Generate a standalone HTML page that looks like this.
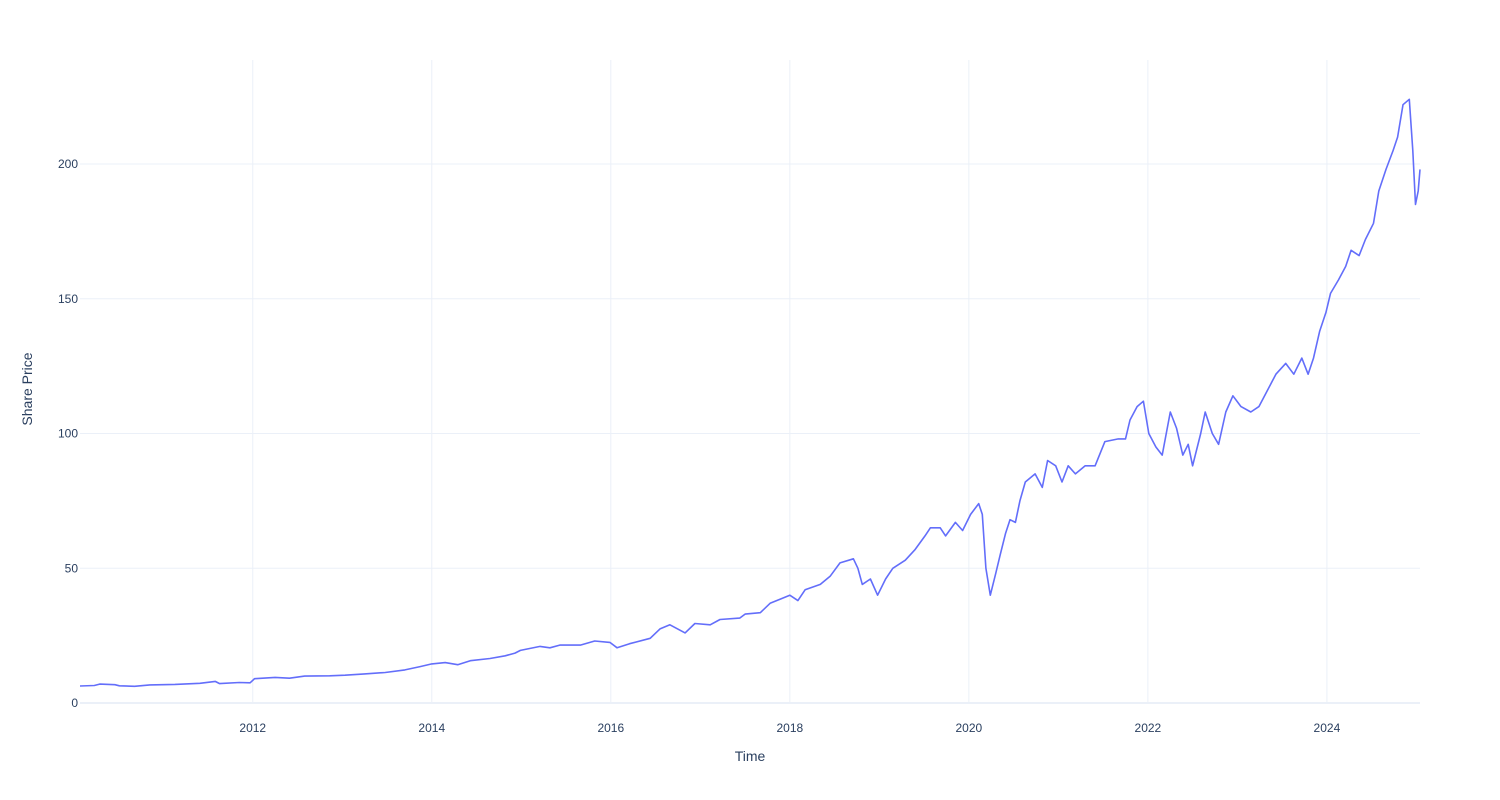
<!DOCTYPE html>
<html><head><meta charset="utf-8"><style>
html,body{margin:0;padding:0;background:#fff;}
svg{display:block;font-family:"Liberation Sans","DejaVu Sans",sans-serif;}
</style></head><body>
<svg id="chart" width="1500" height="800">
<g id="grid"></g>
<g id="axes"></g>
<path id="line" fill="none" stroke="#636efa" stroke-width="1.6" stroke-linejoin="round"></path>
<text x="750" y="761" text-anchor="middle" font-size="14" fill="#2a3f5f">Time</text>
<text transform="translate(32,389) rotate(-90)" text-anchor="middle" font-size="14" fill="#2a3f5f">Share Price</text>
</svg>
<script>
const years = [2010.07,2010.23,2010.29,2010.46,2010.51,2010.68,2010.85,2011.13,2011.41,2011.58,2011.63,2011.85,2011.97,2012.02,2012.25,2012.41,2012.58,2012.86,2013.03,2013.25,2013.48,2013.70,2013.87,2014.00,2014.15,2014.29,2014.43,2014.65,2014.82,2014.93,2014.99,2015.21,2015.32,2015.43,2015.66,2015.82,2015.99,2016.07,2016.21,2016.44,2016.55,2016.66,2016.83,2016.94,2017.11,2017.22,2017.44,2017.50,2017.67,2017.78,2017.89,2018.00,2018.09,2018.17,2018.34,2018.45,2018.56,2018.71,2018.76,2018.81,2018.90,2018.98,2019.07,2019.15,2019.29,2019.40,2019.51,2019.57,2019.68,2019.74,2019.85,2019.93,2020.02,2020.11,2020.15,2020.19,2020.24,2020.30,2020.35,2020.41,2020.46,2020.52,2020.57,2020.63,2020.74,2020.82,2020.88,2020.97,2021.04,2021.11,2021.19,2021.30,2021.41,2021.52,2021.67,2021.75,2021.80,2021.88,2021.95,2022.01,2022.09,2022.16,2022.25,2022.32,2022.39,2022.45,2022.50,2022.59,2022.64,2022.72,2022.79,2022.87,2022.95,2023.04,2023.15,2023.24,2023.32,2023.43,2023.54,2023.63,2023.72,2023.79,2023.85,2023.92,2023.99,2024.04,2024.13,2024.21,2024.27,2024.36,2024.43,2024.52,2024.58,2024.66,2024.74,2024.79,2024.85,2024.92,2024.96,2024.99,2025.02,2025.04];
const prices = [6.3,6.5,7,6.8,6.4,6.2,6.7,6.9,7.3,8,7.2,7.6,7.5,9,9.5,9.2,10,10.1,10.3,10.8,11.3,12.3,13.5,14.5,15,14.2,15.7,16.5,17.5,18.5,19.5,21,20.5,21.5,21.5,23,22.5,20.5,22,24,27.5,29,26,29.5,29,31,31.5,33,33.5,37,38.5,40,38,42,44,47,52,53.5,50,44,46,40,46,50,53,57,62,65,65,62,67,64,70,74,70,50,40,48,55,63,68,67,75,82,85,80,90,88,82,88,85,88,88,97,98,98,105,110,112,100,95,92,108,102,92,96,88,100,108,100,96,108,114,110,108,110,115,122,126,122,128,122,128,138,145,152,157,162,168,166,172,178,190,198,205,210,222,224,205,185,190,198];
const yTicks = [0,50,100,150,200];
const xTicks = [2012,2014,2016,2018,2020,2022,2024];

const L=80,R=1420,T=60,B=703;
const x0=2010.07,x1=2025.04,y0=0,y1=238.6;
const sx=v=>L+(v-x0)/(x1-x0)*(R-L);
const sy=v=>B-(v-y0)/(y1-y0)*(B-T);
const NS="http://www.w3.org/2000/svg";
const grid=document.getElementById('grid'), axes=document.getElementById('axes');
function mk(tag,attrs,parent){const e=document.createElementNS(NS,tag);for(const k in attrs)e.setAttribute(k,attrs[k]);parent.appendChild(e);return e;}
yTicks.forEach(v=>{
  const l=mk('line',{x1:L,x2:R,y1:sy(v),y2:sy(v),stroke:v===0?'#ebf0f8':'#ebf0f8','stroke-width':v===0?2:1},grid);
  
  
  const t=mk('text',{x:L-2,y:sy(v)+4,'text-anchor':'end','font-size':12,fill:'#2a3f5f'},axes);
  t.textContent=v;
  
  
});
xTicks.forEach(v=>{
  const l=mk('line',{x1:sx(v),x2:sx(v),y1:T,y2:B,stroke:'#ebf0f8','stroke-width':1},grid);
  
  
  const t=mk('text',{x:sx(v),y:B+29,'text-anchor':'middle','font-size':12,fill:'#2a3f5f'},axes);
  t.textContent=v;
  
  
});
document.getElementById('line').setAttribute('d',years.map((yr,i)=>(i?'L':'M')+sx(yr).toFixed(1)+','+sy(prices[i]).toFixed(1)).join(''));
</script>
</body></html>
